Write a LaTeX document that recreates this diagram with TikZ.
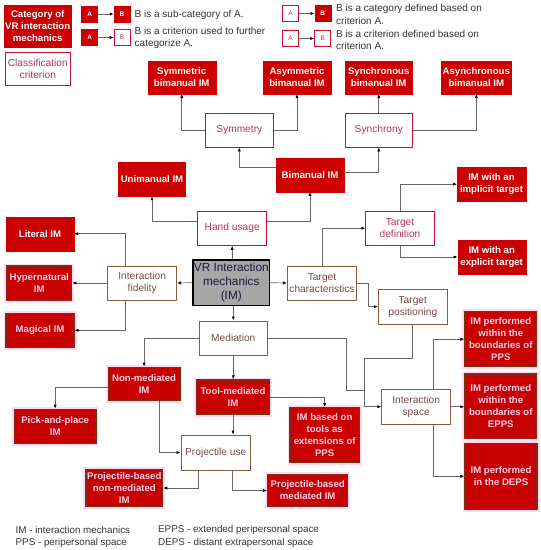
\documentclass[tikz,border=0pt]{standalone}
\usepackage{fontspec}
\setmainfont{Liberation Sans}
\usetikzlibrary{arrows.meta,calc}
\definecolor{boxred}{HTML}{CC0000}
\definecolor{boxred2}{HTML}{C80000}
\definecolor{brownb}{HTML}{7A2E12}
\definecolor{halo}{HTML}{FFD8F4}
\definecolor{pinktxt}{HTML}{FFD0E8}
\definecolor{critred}{HTML}{C8102E}
\definecolor{crittxt}{HTML}{B8335A}
\definecolor{critbrown}{HTML}{8B5A3C}
\definecolor{critbtxt}{HTML}{7A4848}
\definecolor{linegray}{HTML}{666666}
\definecolor{legtxt}{HTML}{333333}
\definecolor{vrgray}{HTML}{A6A6A6}
\definecolor{vrtxt}{HTML}{1A1A40}
\tikzset{
  sz/.style 2 args={minimum width=#1pt, minimum height=#2pt},
  redbox/.style={fill=boxred, draw=boxred, text=white, align=center, inner sep=1pt,
     font=\bfseries\fontsize{9.6}{12}\selectfont},
  redboxb/.style={fill=boxred2, draw=brownb, line width=1.2pt, text=pinktxt, align=center, inner sep=1pt,
     font=\bfseries\fontsize{9.6}{12}\selectfont, preaction={draw=halo, line width=5pt}},
  critbox/.style={fill=white, draw=critred, line width=0.9pt, text=crittxt, align=center, inner sep=1pt,
     font=\fontsize{10.2}{12.2}\selectfont},
  critboxb/.style={fill=white, draw=critbrown, line width=0.9pt, text=critbtxt, align=center, inner sep=1pt,
     font=\fontsize{10.2}{12.2}\selectfont},
  vrbox/.style={fill=vrgray, draw=black, line width=1.6pt, text=vrtxt, align=center, inner sep=1pt,
     font=\fontsize{11.8}{14}\selectfont},
  conn/.style={draw=linegray, line width=0.7pt, -{Latex[length=4pt,width=3.2pt,color=black]}},
  plainline/.style={draw=linegray, line width=0.7pt},
  minired/.style={fill=boxred, draw=boxred, text=white, minimum width=16pt, minimum height=16pt, inner sep=0pt,
     font=\bfseries\fontsize{6.5}{7}\selectfont},
  miniwhite/.style={fill=white, draw=critred, line width=0.8pt, text=crittxt, minimum width=16pt, minimum height=16pt, inner sep=0pt,
     font=\fontsize{6.5}{7}\selectfont},
  legtext/.style={text=legtxt, anchor=west, align=left, inner sep=0pt, font=\fontsize{10}{12.3}\selectfont},
  foot/.style={text=legtxt, anchor=west, inner sep=0pt, font=\fontsize{9.8}{12}\selectfont},
}
\begin{document}
\begin{tikzpicture}[x=1pt,y=-1pt]
\useasboundingbox (0,0) rectangle (541,550);
\fill[white] (0,0) rectangle (541,550);

% ---- legend ----
\node[redbox, sz={65.5}{42.5}] (lcat) at (37.7,26.2) {Category of\\VR interaction\\mechanics};
\node[critbox, sz={65}{32.6}] (lcrit) at (37.8,69) {Classification\\criterion};

\node[minired] (la1) at (89.6,14) {A};
\node[minired] (lb1) at (122,14) {B};
\node[legtext] (lt1) at (134.5,14.8) {B is a sub-category of A.};
\node[minired] (la2) at (89.6,37.5) {A};
\node[miniwhite] (lb2) at (122,37.5) {B};
\node[legtext] (lt2) at (134.5,37.9) {B is a criterion used to further\\categorize A.};
\node[miniwhite] (la3) at (290.5,13.5) {A};
\node[minired] (lb3) at (322.7,13.5) {B};
\node[legtext] (lt3) at (336,14.3) {B is a category defined based on\\criterion A.};
\node[miniwhite] (la4) at (290.5,38.5) {A};
\node[miniwhite] (lb4) at (322.7,38.5) {B};
\node[legtext] (lt4) at (336,40.2) {B is a criterion defined based on\\criterion A.};
\draw[conn] (la1) -- (lb1);
\draw[conn] (la2) -- (lb2);
\draw[conn] (la3) -- (lb3);
\draw[conn] (la4) -- (lb4);

% ---- top row ----
\node[redbox, sz={68}{33}] (symb) at (181.7,77.3) {Symmetric\\bimanual IM};
\node[redbox, sz={67.5}{33}] (asymb) at (297,77.3) {Asymmetric\\bimanual IM};
\node[redbox, sz={67.5}{33}] (syncb) at (378.7,77.3) {Synchronous\\bimanual IM};
\node[redbox, sz={67.5}{33}] (asyncb) at (476.3,77.3) {Asynchronous\\bimanual IM};
\node[critbox, sz={68}{33.3}] (sym) at (239.3,130.3) {Symmetry};
\node[critbox, sz={67.7}{33.3}] (sync) at (378.8,130.3) {Synchrony};
\node[redbox, sz={68}{33.4}] (bim) at (310,175) {Bimanual IM};
\node[redbox, sz={67}{34}] (uni) at (152,179) {Unimanual IM};
\node[redbox, sz={68.4}{33.7}] (impl) at (491.5,184.2) {IM with an\\implicit target};
\node[critbox, sz={69}{34.3}] (hand) at (232.2,228.2) {Hand usage};
\node[critbox, sz={68.6}{34.3}] (tdef) at (400,228.2) {Target\\definition};
\node[redbox, sz={68}{34}] (lit) at (40,233.7) {Literal IM};
\node[redbox, sz={68}{34}] (expl) at (491.7,257) {IM with an\\explicit target};

% ---- middle ----
\node[vrbox, sz={76}{45.3}] (vr) at (231.3,282.7) {VR Interaction\\mechanics\\(IM)};
\node[critboxb, sz={69}{34}] (fid) at (142.2,283) {Interaction\\fidelity};
\node[redboxb, sz={65}{34}] (hyp) at (39.2,283) {Hypernatural\\IM};
\node[critboxb, sz={69.4}{34}] (tc) at (322,283) {Target\\characteristics};
\node[critboxb, sz={69}{34.7}] (tpos) at (412.8,306.7) {Target\\positioning};
\node[redboxb, sz={68}{34}] (mag) at (40,330.3) {Magical IM};
\node[critboxb, sz={68.7}{34.7}] (med) at (233.3,338.3) {Mediation};

% ---- right column ----
\node[redboxb, sz={71.7}{55}] (pps) at (500.8,339.2) {IM performed\\within the\\boundaries of\\PPS};
\node[redboxb, sz={71.7}{64}] (epps) at (500.8,406) {IM performed\\within the\\boundaries of\\EPPS};
\node[redboxb, sz={72}{66}] (deps) at (501,476.3) {IM performed\\in the DEPS};
\node[critboxb, sz={69}{34.7}] (space) at (416.2,406.7) {Interaction\\space};

% ---- lower ----
\node[redboxb, sz={71.7}{33.4}] (nonmed) at (144.1,384) {Non-mediated\\IM};
\node[redboxb, sz={72.7}{34}] (tool) at (233,397) {Tool-mediated\\IM};
\node[redboxb, sz={81.4}{34.5}] (pick) at (55.2,426.5) {Pick-and-place\\IM};
\node[redboxb, sz={69.3}{54.7}] (based) at (324.7,435) {IM based on\\tools as\\extensions of\\PPS};
\node[critboxb, sz={69.7}{35}] (proj) at (215.8,452.5) {Projectile use};
\node[redboxb, sz={76.7}{37.4}] (pbnm) at (124.3,488) {Projectile-based\\non-mediated\\IM};
\node[redboxb, sz={80}{32.4}] (pbm) at (307.7,490.5) {Projectile-based\\mediated IM};

% ---- footer ----
\node[foot] (f1) at (15.5,529.7) {IM - interaction mechanics};
\node[foot] (f2) at (15.5,542.8) {PPS - peripersonal space};
\node[foot] (f3) at (158,529.7) {EPPS - extended peripersonal space};
\node[foot] (f4) at (158,542.8) {DEPS - distant extrapersonal space};

% ---- connectors ----
\draw[conn] (sym.west) -| (symb.south);
\draw[conn] (sym.east) -| (asymb.south);
\draw[conn] (sync.north) -- (sync.north |- syncb.south);
\draw[conn] (sync.east) -| (asyncb.south);
\draw[conn] ([yshift=8pt]bim.west) -| (sym.south);
\draw[conn] ([yshift=3pt]bim.east) -| (sync.south);
\draw[conn] ([yshift=6.5pt]hand.west) -| (uni.south);
\draw[conn] ([yshift=6.5pt]hand.east) -| (bim.south);
\draw[conn] (vr.north -| hand.north) -- (hand.south);
\draw[conn] (vr.west) -- (fid.east);
\draw[conn] (vr.east) -- (tc.west);
\draw[conn] (vr.south -| med.north) -- (med.north);
\draw[conn] ([xshift=-17pt]fid.north) |- (lit.east);
\draw[conn] (fid.west) -- (hyp.east);
\draw[conn] ([xshift=-17pt]fid.south) |- (mag.east);
\draw[conn] (tc.north) |- (tdef.west);
\draw[conn] (tdef.north) |- (impl.west);
\draw[conn] (tdef.south) |- (expl.west);
\draw[conn] (tc.east) -- ++(11,0) |- (tpos.west);
\coordinate (jx) at (364.3,390.7);
\draw[conn] (tpos.south) -- ++(0,33.7) -| (jx) |- (space.west);
\draw[plainline] (med.east) -| ($(jx)+(-17.6,0)$) -- (jx);
\draw[conn] ([xshift=17pt]space.north) |- (pps.west);
\draw[conn] (space.east) -- (space.east -| epps.west);
\draw[conn] ([xshift=17pt]space.south) |- (deps.west);
\draw[conn] (med.west) -| (nonmed.north);
\draw[conn] (med.south) -- (med.south |- tool.north);
\draw[conn] ([yshift=-3.6pt]nonmed.west) -| (pick.north);
\draw[conn] ([xshift=15.3pt]nonmed.south) |- (proj.west);
\draw[conn] (tool.east) -| (based.north);
\draw[conn] (tool.south) -- (tool.south |- proj.north);
\draw[conn] ([xshift=-17.5pt]proj.south) |- (pbnm.east);
\draw[conn] ([xshift=17pt]proj.south) |- (pbm.west);
\end{tikzpicture}
\end{document}
